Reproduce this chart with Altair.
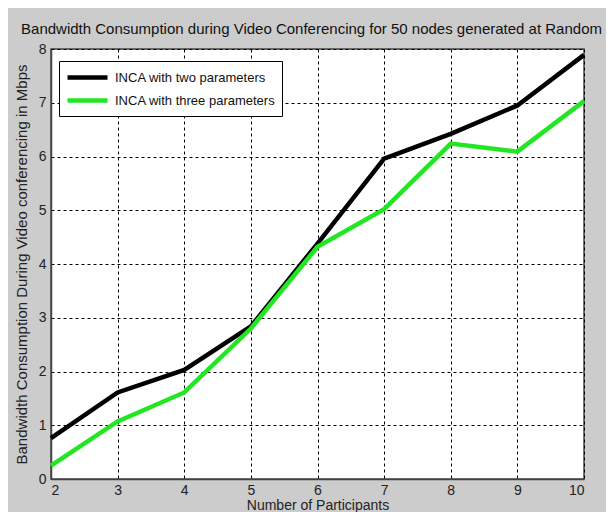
import altair as alt
import pandas as pd

participants = [2, 3, 4, 5, 6, 7, 8, 9, 10]
two_params = [0.76, 1.61, 2.03, 2.84, 4.38, 5.96, 6.42, 6.95, 7.89]
three_params = [0.25, 1.07, 1.61, 2.80, 4.32, 5.02, 6.24, 6.09, 7.03]
series_names = ["INCA with two parameters", "INCA with three parameters"]
series_colors = ["#000000", "#22e622"]

rows = []
for name, vals in zip(series_names, [two_params, three_params]):
    for p, v in zip(participants, vals):
        rows.append({"participants": p, "bandwidth": v, "series": name})
df = pd.DataFrame(rows)

FONT = "Liberation Sans"

chart = alt.Chart(df).mark_line(strokeWidth=4.5).encode(
    x=alt.X("participants:Q",
            scale=alt.Scale(domain=[2, 10], nice=False, zero=False),
            axis=alt.Axis(title="Number of Participants", values=participants,
                          format="d")),
    y=alt.Y("bandwidth:Q",
            scale=alt.Scale(domain=[0, 8], nice=False),
            axis=alt.Axis(title="Bandwidth Consumption During Video conferencing in Mbps",
                          values=[0, 1, 2, 3, 4, 5, 6, 7, 8], format="d")),
    color=alt.Color("series:N",
                    scale=alt.Scale(domain=series_names, range=series_colors),
                    legend=alt.Legend(title=None, orient="none", legendX=8, legendY=12,
                                      symbolType="M-1,0H4", symbolStrokeWidth=4.5,
                                      symbolSize=256, labelFontSize=13,
                                      labelFont=FONT, labelColor="#111111",
                                      labelLimit=400,
                                      padding=6, strokeColor="#000000",
                                      fillColor="#ffffff", cornerRadius=0,
                                      rowPadding=3, labelOffset=29)),
    order=alt.Order("series:N", sort="descending"),
).properties(
    width=533,
    height=430,
    background="#cccccc",
    padding={"left": 43, "top": 41, "right": 22, "bottom": 33},
    autosize=alt.AutoSizeParams(type="none"),
    title=alt.TitleParams(
        "Bandwidth Consumption during Video Conferencing for 50 nodes generated at Random",
        font=FONT, fontSize=15, fontWeight="normal", color="#111111",
        anchor="middle", offset=5, dx=-6),
).configure_view(
    fill="#ffffff", stroke="#444444", strokeWidth=1.5,
).configure_axis(
    labelFont=FONT, labelFontSize=14, labelColor="#222222",
    titleFont=FONT, titleFontSize=14, titleColor="#222222", titleFontWeight="normal",
    grid=True, gridColor="#000000", gridDash=[3, 3], gridWidth=1, gridOpacity=1,
    domain=True, domainColor="#444444", domainWidth=1.5, ticks=False,
    labelPadding=5,
).configure_axisX(
    labelPadding=4,
    titlePadding=1,
).configure_axisY(
    titlePadding=9,
    titleFontSize=15,
)

chart.save("out.html", embed_options={"renderer": "svg", "actions": False})
